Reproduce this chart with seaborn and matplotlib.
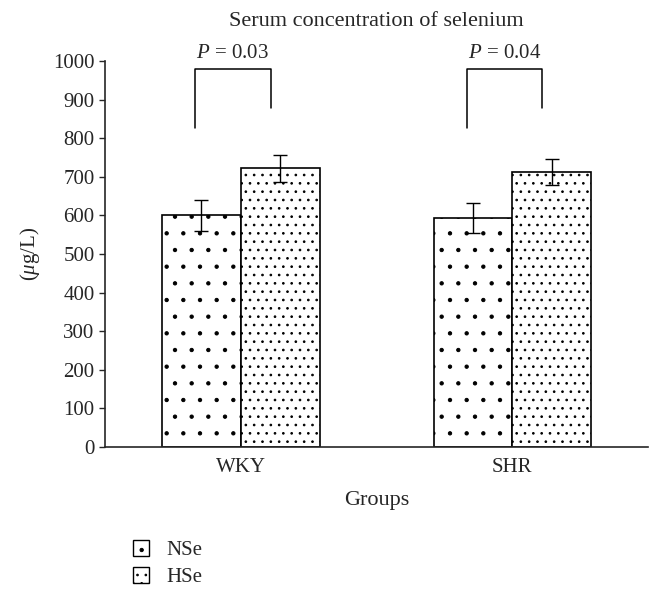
import numpy as np
import pandas as pd
import seaborn as sns
import matplotlib.pyplot as plt
from matplotlib.patches import Patch

# datos
grupos = ['WKY', 'SHR']
dietas = ['NSe', 'HSe']
nse_media = [600, 593]
hse_media = [722, 712]
nse_err = [40, 38]
hse_err = [35, 33]
p_valores = ['0.03', '0.04']

data = pd.DataFrame({
    'Grupo': grupos * 2,
    'Dieta': ['NSe'] * 2 + ['HSe'] * 2,
    'Valor': nse_media + hse_media,
    'Err': nse_err + hse_err,
})

sns.set_style('ticks')
plt.rcParams['font.family'] = ['Liberation Serif', 'DejaVu Serif']
plt.rcParams['mathtext.fontset'] = 'custom'
plt.rcParams['mathtext.it'] = 'Liberation Serif:italic'
plt.rcParams['mathtext.rm'] = 'Liberation Serif'
plt.rcParams['hatch.linewidth'] = 0.7

fig = plt.figure(figsize=(6.62, 5.98), dpi=100)
ax = fig.add_axes([0.1586, 0.2525, 0.8204, 0.6455])

sns.barplot(data=data, x='Grupo', y='Valor', hue='Dieta', order=grupos,
            hue_order=dietas, palette=['white', 'white'], width=0.58,
            edgecolor='black', linewidth=1.2, errorbar=None, legend=False, ax=ax)

hatches = {'NSe': '.', 'HSe': '..'}
for cont, dieta in zip(ax.containers, dietas):
    sub = data[data['Dieta'] == dieta].set_index('Grupo').loc[grupos]
    xs = [b.get_x() + b.get_width() / 2 for b in cont]
    for b in cont:
        b.set_hatch(hatches[dieta])
    ax.errorbar(xs, sub['Valor'], yerr=sub['Err'], fmt='none', ecolor='black',
                elinewidth=1, capsize=5, capthick=1, zorder=5)

# corchetes de significancia
for i, p in enumerate(p_valores):
    b1 = ax.containers[0][i]
    b2 = ax.containers[1][i]
    x1 = b1.get_x() + b1.get_width() * 0.42
    x2 = b2.get_x() + b2.get_width() * 0.38
    ax.plot([x1, x1, x2, x2], [826, 979, 979, 878], color='black', lw=1.1,
            clip_on=False)
    ax.text((x1 + x2) / 2, 996, r'$P$ = ' + p, ha='center', va='bottom',
            fontsize=15, clip_on=False)

ax.set_xlim(-0.5, 1.5)
ax.set_ylim(0, 1000)
ax.set_yticks(np.arange(0, 1001, 100))
ax.tick_params(axis='both', labelsize=15, direction='out', length=4, width=1)
ax.tick_params(axis='x', length=0, pad=8)
for s in ['top', 'right']:
    ax.spines[s].set_visible(False)
ax.spines['left'].set_linewidth(1.2)
ax.spines['bottom'].set_linewidth(1.2)
ax.set_xlabel('Groups', fontsize=16, labelpad=10)
ax.set_ylabel(r'($\mu$g/L)', fontsize=15, labelpad=8)
ax.set_title('Serum concentration of selenium', fontsize=16, pad=25, x=0.5)

handles = [Patch(facecolor='white', edgecolor='black', hatch=hatches[d], label=d)
           for d in dietas]
fig.legend(handles=handles, loc='upper left', bbox_to_anchor=(0.172, 0.128),
           frameon=False, fontsize=15, handlelength=0.8, handleheight=0.8,
           labelspacing=0.3, handletextpad=0.8)

fig.savefig('out.png', dpi=100)
